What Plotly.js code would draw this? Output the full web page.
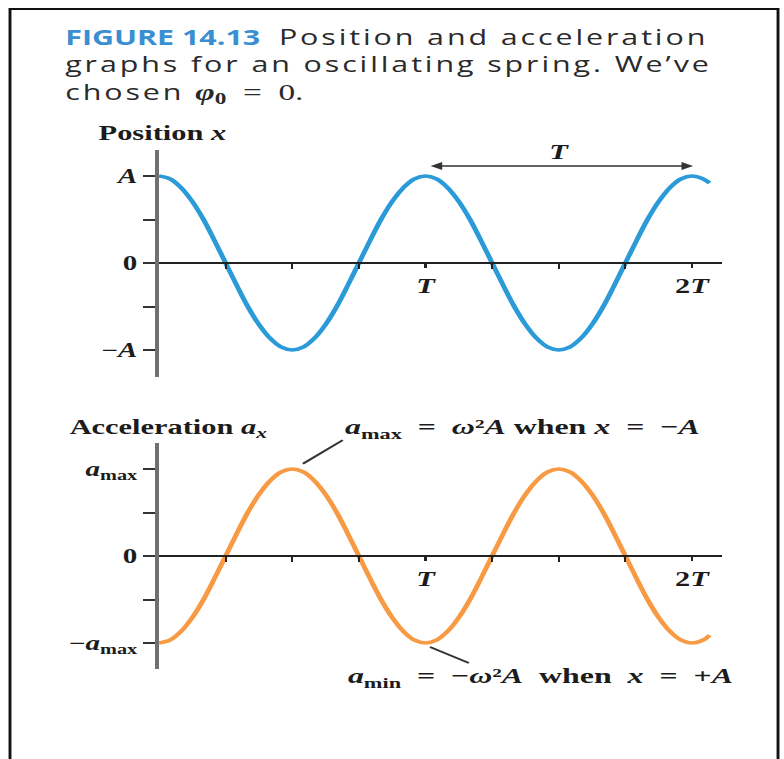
<!DOCTYPE html>
<html>
<head>
<meta charset="utf-8">
<script src="https://cdn.plot.ly/plotly-3.0.1.min.js"></script>
<style>
  html, body { margin: 0; padding: 0; overflow: hidden; background: #fff; }
  /* The figure is laid out on a narrower canvas and widened horizontally,
     which gives the broad, stretched lettering of the printed figure. */
  #fig { width: 541px; height: 759px; transform-origin: 0 0; transform: scaleX(1.4492); }
</style>
</head>
<body>
<div id="fig"></div>
<script>
// ---- Data (time in units of the period T) ----
const tPos = [0, 0.042, 0.083, 0.125, 0.167, 0.208, 0.25, 0.292, 0.333, 0.375, 0.417, 0.458,
              0.5, 0.542, 0.583, 0.625, 0.667, 0.708, 0.75, 0.792, 0.833, 0.875, 0.917, 0.958,
              1, 1.042, 1.083, 1.125, 1.167, 1.208, 1.25, 1.292, 1.333, 1.375, 1.417, 1.458,
              1.5, 1.542, 1.583, 1.625, 1.667, 1.708, 1.75, 1.792, 1.833, 1.875, 1.917, 1.958,
              2, 2.042, 2.066];
// position x in units of the amplitude A
const xPos = [1, 0.966, 0.866, 0.707, 0.5, 0.259, 0, -0.259, -0.5, -0.707, -0.866, -0.966,
              -1, -0.966, -0.866, -0.707, -0.5, -0.259, 0, 0.259, 0.5, 0.707, 0.866, 0.966,
              1, 0.966, 0.866, 0.707, 0.5, 0.259, 0, -0.259, -0.5, -0.707, -0.866, -0.966,
              -1, -0.966, -0.866, -0.707, -0.5, -0.259, 0, 0.259, 0.5, 0.707, 0.866, 0.966,
              1, 0.966, 0.92];
const tAcc = [0, 0.042, 0.083, 0.125, 0.167, 0.208, 0.25, 0.292, 0.333, 0.375, 0.417, 0.458,
              0.5, 0.542, 0.583, 0.625, 0.667, 0.708, 0.75, 0.792, 0.833, 0.875, 0.917, 0.958,
              1, 1.042, 1.083, 1.125, 1.167, 1.208, 1.25, 1.292, 1.333, 1.375, 1.417, 1.458,
              1.5, 1.542, 1.583, 1.625, 1.667, 1.708, 1.75, 1.792, 1.833, 1.875, 1.917, 1.958,
              2, 2.042, 2.066];
// acceleration a_x in units of a_max
const aAcc = [-1, -0.966, -0.866, -0.707, -0.5, -0.259, 0, 0.259, 0.5, 0.707, 0.866, 0.966,
              1, 0.966, 0.866, 0.707, 0.5, 0.259, 0, -0.259, -0.5, -0.707, -0.866, -0.966,
              -1, -0.966, -0.866, -0.707, -0.5, -0.259, 0, 0.259, 0.5, 0.707, 0.866, 0.966,
              1, 0.966, 0.866, 0.707, 0.5, 0.259, 0, -0.259, -0.5, -0.707, -0.866, -0.966,
              -1, -0.966, -0.91];

// labelled ticks and plain tick marks
const tTickVals = [1, 2];
const tTickText = ['<i>T</i>', '2<i>T</i>'];
const tMinorVals = [0.25, 0.5, 0.75, 1.25, 1.5, 1.75];
const yTickVals = [-1, 0, 1];
const yMinorVals = [-0.5, 0.5];
const posTickText = ['\u2212<i>A</i>', '0', '<i>A</i>'];
const accTickText = ['\u2212<i>a</i><sub>max</sub>', '0', '<i>a</i><sub>max</sub>'];

// ---- Geometry helpers (page pixels of the 784 x 759 output) ----
const PAGE_W = 784, PAGE_H = 759;
const SX = 784 / 541;               // horizontal widening factor
const fx = px => px / PAGE_W;       // page x pixel -> paper fraction
const fy = py => 1 - py / PAGE_H;   // page y pixel -> paper fraction
const T0 = 159, PX_PER_T = 266.5, PX_PER_UNIT = 87, AXIS_END = 722;
const tMax = (AXIS_END - T0) / PX_PER_T;

const serif = 'Liberation Serif, Times New Roman, serif';
const sans = 'Open Sans, Noto Sans, sans-serif';
const ink = '#1c1c1c';
const blue = '#2a9ad8';
const orange = '#f79a43';
const EN = '\u2002';

function yAxisFor(zeroPx, topPx, botPx, ticktext, anchor) {
  return {
    anchor: anchor,
    domain: [fy(botPx), fy(topPx)],
    range: [(zeroPx - botPx) / PX_PER_UNIT, (zeroPx - topPx) / PX_PER_UNIT],
    showline: true, linecolor: '#707070', linewidth: 3,
    ticks: 'outside', ticklen: 8, tickwidth: 2, tickcolor: '#333',
    tickmode: 'array', tickvals: yTickVals, ticktext: ticktext,
    minor: { tickmode: 'array', tickvals: yMinorVals, ticks: 'outside', ticklen: 8, tickwidth: 2,
             tickcolor: '#333', showgrid: false },
    tickfont: { family: serif, size: 20, color: ink, weight: 'bold' },
    showgrid: false, zeroline: false, fixedrange: true
  };
}
function tAxisFor(zeroPx) {
  return {
    domain: [fx(T0), fx(AXIS_END)],
    range: [0, tMax],
    anchor: 'free', position: fy(zeroPx),
    showline: true, linecolor: '#222', linewidth: 2,
    ticks: 'outside', ticklen: 4, tickwidth: 1.5, tickcolor: '#222',
    tickmode: 'array', tickvals: tTickVals, ticktext: tTickText,
    minor: { tickmode: 'array', tickvals: tMinorVals, ticks: 'outside', ticklen: 5, tickwidth: 1.5,
             tickcolor: '#222', showgrid: false },
    tickfont: { family: serif, size: 21, color: ink, weight: 'bold' },
    showgrid: false, zeroline: false, fixedrange: true
  };
}

const traces = [
  { x: tPos, y: xPos, xaxis: 'x', yaxis: 'y', mode: 'lines',
    line: { color: blue, width: 3.5, shape: 'spline', smoothing: 1 }, hoverinfo: 'skip' },
  { x: tAcc, y: aAcc, xaxis: 'x2', yaxis: 'y2', mode: 'lines',
    line: { color: orange, width: 3.5, shape: 'spline', smoothing: 1 }, hoverinfo: 'skip' }
];

const labelFont = { family: serif, size: 21, color: ink, weight: 'bold' };
const eqFont = { family: serif, size: 22, color: ink, weight: 'bold' };
const spaced = s => '<span style="letter-spacing:2px">' + s + '</span>';
const serifBit = s => '<span style="font-family:Liberation Serif;font-size:23px">' + s + '</span>';
const caption =
  '<span style="color:#3a8fd3"><b>FIGURE 14.13</b></span> ' + spaced(' Position and acceleration') + '<br>' +
  spaced('graphs for an oscillating spring. We\u2019ve') + '<br>' +
  spaced('chosen ') + serifBit('<b><i>\u03c6</i></b>') + serifBit('<b><sub>0</sub></b>') +
  serifBit(EN + '=' + EN + '0.');

const annotations = [
  // caption, three lines
  { xref: 'paper', yref: 'paper', x: fx(63), y: fy(21), xanchor: 'left', yanchor: 'top', align: 'left',
    showarrow: false, text: caption, font: { family: sans, size: 21, color: '#2a2a2a' } },

  // position panel
  { xref: 'paper', yref: 'paper', x: fx(95), y: fy(133), xanchor: 'left', yanchor: 'middle', showarrow: false,
    text: 'Position <i>x</i>', font: labelFont },
  { xref: 'x', yref: 'y', x: 2.004, y: 1.115, axref: 'x', ayref: 'y', ax: 1.011, ay: 1.115,
    text: '', showarrow: true, arrowhead: 2, arrowside: 'end+start', arrowsize: 1, arrowwidth: 1.6,
    arrowcolor: '#333' },
  { xref: 'x', yref: 'y', x: 1.5, y: 1.28, showarrow: false, text: '<i>T</i>', font: labelFont },
  { xref: 'x', yref: 'y', x: (737 - T0) / PX_PER_T, y: 0.03, showarrow: false, text: '<i>t</i>', font: labelFont },

  // acceleration panel
  { xref: 'paper', yref: 'paper', x: fx(67), y: fy(428), xanchor: 'left', yanchor: 'middle', showarrow: false,
    text: 'Acceleration <i>a<sub>x</sub></i>', font: labelFont },
  { xref: 'x2', yref: 'y2', x: (737 - T0) / PX_PER_T, y: 0.03, showarrow: false, text: '<i>t</i>', font: labelFont },
  { xref: 'paper', yref: 'paper', x: fx(342), y: fy(428), xanchor: 'left', yanchor: 'middle', showarrow: false,
    text: '<i>a</i><sub>max</sub>' + EN + '=' + EN + '<i>\u03c9</i>\u00b2<i>A</i> when <i>x</i>' +
          EN + '=' + EN + '\u2212<i>A</i>', font: eqFont },
  { xref: 'paper', yref: 'paper', x: fx(345), y: fy(677), xanchor: 'left', yanchor: 'middle', showarrow: false,
    text: '<i>a</i><sub>min</sub>' + EN + '=' + EN + '\u2212<i>\u03c9</i>\u00b2<i>A</i>' + EN + 'when' + EN +
          '<i>x</i>' + EN + '=' + EN + '+<i>A</i>', font: eqFont },
  // leader lines from the labels to the extremes of the curve
  { xref: 'x2', yref: 'y2', x: 0.54, y: 1.06, ax: 42 / SX, ay: -25, text: '', showarrow: true,
    arrowhead: 0, arrowwidth: 1.8, arrowcolor: '#333', standoff: 0 },
  { xref: 'x2', yref: 'y2', x: 1.017, y: -1.046, ax: 41 / SX, ay: 17, text: '', showarrow: true,
    arrowhead: 0, arrowwidth: 1.8, arrowcolor: '#333', standoff: 0 }
];

const shapes = [
  // figure frame
  { type: 'rect', xref: 'paper', yref: 'paper', x0: fx(10), x1: fx(778), y0: -0.05, y1: fy(9),
    line: { color: '#111', width: 2 }, fillcolor: 'rgba(0,0,0,0)' }
];

const layout = {
  width: 541, height: PAGE_H,
  margin: { l: 0, r: 0, t: 0, b: 0, pad: 0 },
  paper_bgcolor: '#fff', plot_bgcolor: 'rgba(0,0,0,0)',
  showlegend: false,
  xaxis: tAxisFor(263),
  yaxis: yAxisFor(263, 150, 377, posTickText, 'x'),
  xaxis2: tAxisFor(556),
  yaxis2: yAxisFor(556, 443, 669, accTickText, 'x2'),
  annotations: annotations,
  shapes: shapes
};

Plotly.newPlot('fig', traces, layout, { displayModeBar: false, staticPlot: true });
</script>
</body>
</html>
